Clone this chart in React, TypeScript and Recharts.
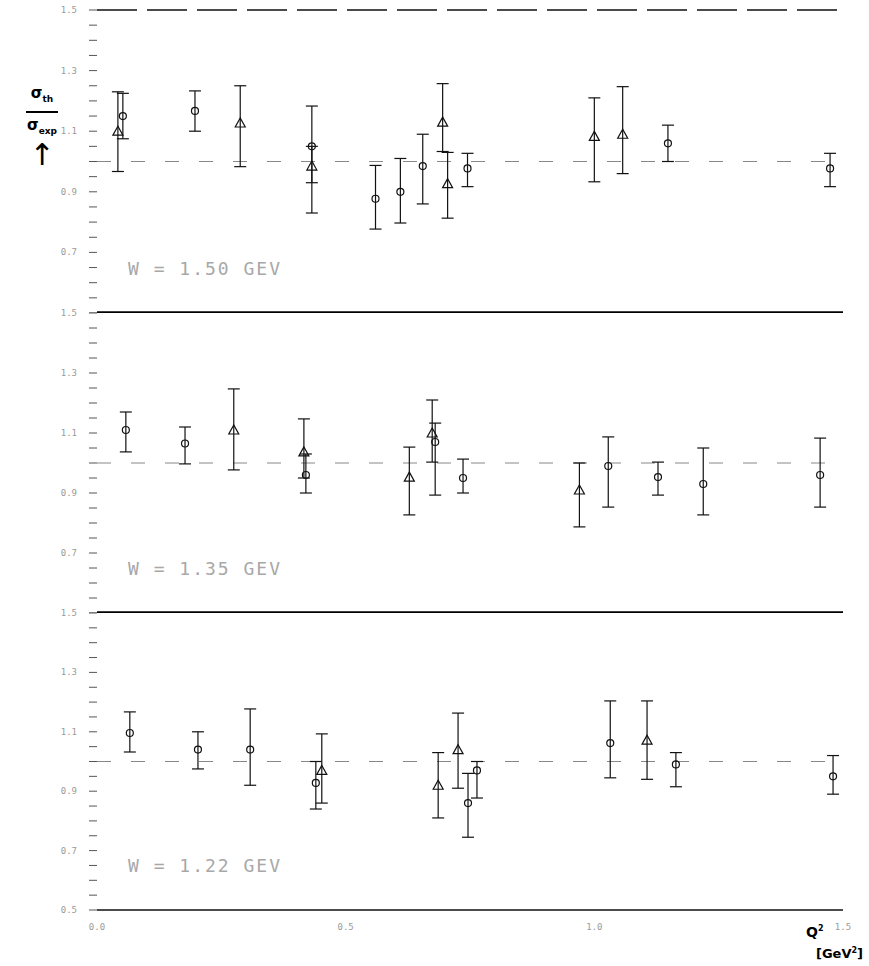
import React from 'react'
import { ScatterChart, Scatter, XAxis, YAxis, ErrorBar, ReferenceLine } from 'recharts'

// sigma_th / sigma_exp against Q2 (GeV^2); lo / hi are the ends of the error bar
const w150Triangles = [
  { q2: 0.042, r: 1.10, lo: 0.967, hi: 1.23 },
  { q2: 0.288, r: 1.127, lo: 0.983, hi: 1.25 },
  { q2: 0.432, r: 0.985, lo: 0.83, hi: 1.05 },
  { q2: 0.695, r: 1.13, lo: 1.033, hi: 1.257 },
  { q2: 0.705, r: 0.927, lo: 0.813, hi: 1.03 },
  { q2: 1.0, r: 1.083, lo: 0.933, hi: 1.21 },
  { q2: 1.057, r: 1.09, lo: 0.96, hi: 1.247 },
]
const w150Circles = [
  { q2: 0.052, r: 1.15, lo: 1.075, hi: 1.225 },
  { q2: 0.197, r: 1.167, lo: 1.10, hi: 1.233 },
  { q2: 0.432, r: 1.05, lo: 0.93, hi: 1.183 },
  { q2: 0.56, r: 0.877, lo: 0.777, hi: 0.987 },
  { q2: 0.61, r: 0.90, lo: 0.797, hi: 1.01 },
  { q2: 0.655, r: 0.985, lo: 0.86, hi: 1.09 },
  { q2: 0.745, r: 0.977, lo: 0.917, hi: 1.027 },
  { q2: 1.148, r: 1.06, lo: 1.0, hi: 1.12 },
  { q2: 1.474, r: 0.977, lo: 0.917, hi: 1.027 },
]

const w135Triangles = [
  { q2: 0.275, r: 1.11, lo: 0.977, hi: 1.247 },
  { q2: 0.416, r: 1.037, lo: 0.95, hi: 1.147 },
  { q2: 0.628, r: 0.953, lo: 0.827, hi: 1.053 },
  { q2: 0.674, r: 1.10, lo: 1.003, hi: 1.21 },
  { q2: 0.97, r: 0.91, lo: 0.787, hi: 1.0 },
]
const w135Circles = [
  { q2: 0.058, r: 1.11, lo: 1.037, hi: 1.17 },
  { q2: 0.177, r: 1.065, lo: 0.997, hi: 1.12 },
  { q2: 0.42, r: 0.96, lo: 0.90, hi: 1.03 },
  { q2: 0.68, r: 1.07, lo: 0.893, hi: 1.133 },
  { q2: 0.736, r: 0.95, lo: 0.90, hi: 1.013 },
  { q2: 1.028, r: 0.99, lo: 0.853, hi: 1.087 },
  { q2: 1.128, r: 0.953, lo: 0.893, hi: 1.003 },
  { q2: 1.219, r: 0.93, lo: 0.827, hi: 1.05 },
  { q2: 1.454, r: 0.96, lo: 0.853, hi: 1.083 },
]

const w122Triangles = [
  { q2: 0.452, r: 0.97, lo: 0.86, hi: 1.093 },
  { q2: 0.686, r: 0.92, lo: 0.81, hi: 1.03 },
  { q2: 0.726, r: 1.04, lo: 0.91, hi: 1.163 },
  { q2: 1.106, r: 1.072, lo: 0.94, hi: 1.204 },
]
const w122Circles = [
  { q2: 0.066, r: 1.096, lo: 1.032, hi: 1.167 },
  { q2: 0.203, r: 1.04, lo: 0.975, hi: 1.10 },
  { q2: 0.308, r: 1.04, lo: 0.92, hi: 1.177 },
  { q2: 0.44, r: 0.928, lo: 0.84, hi: 1.0 },
  { q2: 0.746, r: 0.86, lo: 0.745, hi: 0.96 },
  { q2: 0.764, r: 0.97, lo: 0.877, hi: 1.0 },
  { q2: 1.032, r: 1.062, lo: 0.945, hi: 1.204 },
  { q2: 1.164, r: 0.99, lo: 0.915, hi: 1.03 },
  { q2: 1.48, r: 0.95, lo: 0.89, hi: 1.02 },
]

const xTicks = [0, 0.5, 1.0, 1.5]
const yTicks = [
  0.5, 0.55, 0.6, 0.65, 0.7, 0.75, 0.8, 0.85, 0.9, 0.95, 1.0,
  1.05, 1.1, 1.15, 1.2, 1.25, 1.3, 1.35, 1.4, 1.45, 1.5,
]
const yLabelTicks = [0.5, 0.7, 0.9, 1.1, 1.3, 1.5]
const panelLabels = ['W = 1.50 GEV', 'W = 1.35 GEV', 'W = 1.22 GEV']

const W = 869
const INK = '#111'
const GREY = '#9a9a9a'
const MONO = '"DejaVu Sans Mono", monospace'

const withErr = (pts) => pts.map((p) => ({ ...p, err: [p.r - p.lo, p.hi - p.r] }))

const Triangle = ({ cx, cy }) => (
  <polygon points={`${cx},${cy - 5} ${cx - 5},${cy + 4} ${cx + 5},${cy + 4}`} fill="none" stroke={INK} strokeWidth={1.2} />
)
const Ring = ({ cx, cy }) => <circle cx={cx} cy={cy} r={3.5} fill="none" stroke={INK} strokeWidth={1.2} />

// the bottom label of an upper panel sits on the same spot as the top label of the panel below,
// so only the last panel prints its 0.5
function makeYTick(skipBottom) {
  return (props) => {
    const { x, y, payload } = props
    const v = payload.value
    const major = yLabelTicks.some((m) => Math.abs(m - v) < 1e-6)
    if (!major || (skipBottom && Math.abs(v - 0.5) < 1e-6)) return <g />
    return (
      <text x={x} y={y} dy={3} textAnchor="end" fontSize={9} fontFamily={MONO} fill={GREY}>
        {v.toFixed(1)}
      </text>
    )
  }
}

function Panel({ top, height, tri, circ, label, first, last }) {
  return (
    <div style={{ position: 'absolute', left: 0, top, width: W, height }}>
      <ScatterChart width={W} height={height} margin={{ top: 10, right: 26, bottom: 0, left: 0 }}>
        <XAxis
          type="number"
          dataKey="q2"
          domain={[0, 1.5]}
          ticks={xTicks}
          interval={0}
          allowDataOverflow
          hide={!last}
          height={30}
          axisLine={{ stroke: INK, strokeWidth: 1.5 }}
          tickLine={false}
          tickMargin={8}
          tick={{ fill: GREY, fontSize: 9, fontFamily: MONO }}
          tickFormatter={(v) => v.toFixed(1)}
        />
        <YAxis
          yAxisId="l"
          type="number"
          dataKey="r"
          domain={[0.5, 1.5]}
          ticks={yTicks}
          interval={0}
          allowDataOverflow
          width={97}
          axisLine={false}
          tickSize={8}
          tickMargin={12}
          tickLine={{ stroke: '#555' }}
          tick={makeYTick(!last)}
        />
        <YAxis
          yAxisId="r"
          orientation="right"
          type="number"
          domain={[0.5, 1.5]}
          ticks={yTicks}
          interval={0}
          allowDataOverflow
          mirror
          axisLine={false}
          tickSize={6}
          tickLine={{ stroke: '#555' }}
          tick={false}
        />
        <ReferenceLine yAxisId="l" y={1} stroke="#888" strokeDasharray="14 20" />
        {first && <ReferenceLine yAxisId="l" y={1.5} stroke={INK} strokeWidth={1.3} strokeDasharray="40 10" />}
        {!last && <ReferenceLine yAxisId="l" y={0.5} stroke="#000" strokeWidth={3.5} ifOverflow="visible" />}
        <Scatter yAxisId="l" data={withErr(tri)} shape={(p) => <Triangle cx={p.cx} cy={p.cy} />} isAnimationActive={false}>
          <ErrorBar dataKey="err" direction="y" width={6} stroke={INK} strokeWidth={1.2} />
        </Scatter>
        <Scatter yAxisId="l" data={withErr(circ)} shape={(p) => <Ring cx={p.cx} cy={p.cy} />} isAnimationActive={false}>
          <ErrorBar dataKey="err" direction="y" width={6} stroke={INK} strokeWidth={1.2} />
        </Scatter>
      </ScatterChart>
      <div
        style={{
          position: 'absolute',
          left: 128,
          top: height - 55 - (last ? 30 : 0),
          fontFamily: MONO,
          fontSize: 18,
          letterSpacing: 2,
          color: '#a8a8a8',
          whiteSpace: 'pre',
        }}
      >
        {label}
      </div>
    </div>
  )
}

export default function App() {
  return (
    <div style={{ position: 'absolute', left: 0, top: 0, width: W, height: 966, background: '#fff', overflow: 'hidden' }}>
      <Panel top={0} height={313} tri={w150Triangles} circ={w150Circles} label={panelLabels[0]} first />
      <Panel top={303} height={310} tri={w135Triangles} circ={w135Circles} label={panelLabels[1]} />
      <Panel top={603} height={337} tri={w122Triangles} circ={w122Circles} label={panelLabels[2]} last />

      {/* axis titles */}
      <div style={{ position: 'absolute', left: 26, top: 84, width: 32, fontFamily: '"DejaVu Sans", sans-serif', fontWeight: 'bold', color: '#000', textAlign: 'center' }}>
        <div style={{ fontSize: 15, lineHeight: '18px' }}>
          σ<sub style={{ fontSize: 9 }}>th</sub>
        </div>
        <div style={{ borderTop: '2px solid #000', margin: '3px 0' }} />
        <div style={{ fontSize: 15, lineHeight: '18px' }}>
          σ<sub style={{ fontSize: 9 }}>exp</sub>
        </div>
        <div style={{ fontSize: 30, lineHeight: '30px', fontWeight: 'normal' }}>↑</div>
      </div>
      <div style={{ position: 'absolute', left: 806, top: 924, fontFamily: '"DejaVu Sans", sans-serif', fontWeight: 'bold', fontSize: 14 }}>
        Q<sup style={{ fontSize: 8 }}>2</sup>
      </div>
      <div style={{ position: 'absolute', left: 816, top: 946, fontFamily: '"DejaVu Sans", sans-serif', fontWeight: 'bold', fontSize: 13 }}>
        [GeV<sup style={{ fontSize: 8 }}>2</sup>]
      </div>
    </div>
  )
}
